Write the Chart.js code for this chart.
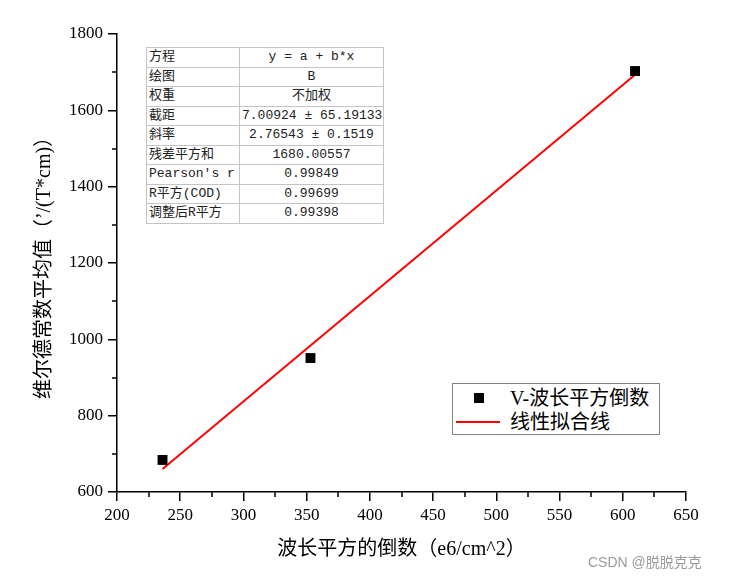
<!DOCTYPE html>
<html>
<head>
<meta charset="utf-8">
<script src="https://cdn.jsdelivr.net/npm/chart.js@4.4.1/dist/chart.umd.min.js"></script>
<style>
  body { margin: 0; background: #fff; }
  #wrap { position: relative; width: 736px; height: 578px; }
  #fitTable {
    position: absolute; left: 146px; top: 47px; width: 238px; table-layout: fixed;
    border-collapse: collapse; border: 1px solid #7a7a7a;
    font: 13px "Liberation Mono", "Noto Sans CJK SC", monospace; color: #222;
    background: #fff;
  }
  #fitTable td { border: 1px solid #c4c4c4; height: 18.5px; padding: 0 2px; line-height: 18px; white-space: nowrap; overflow: hidden; }
  #fitTable td:first-child { width: 88px; text-align: left; }
  #fitTable td:last-child { text-align: center; }
  #legendBox {
    position: absolute; left: 452px; top: 383px; width: 206px; height: 50px;
    border: 1px solid #808080; background: #fff;
    font: 20px "Liberation Serif", "Noto Sans CJK SC", serif; color: #000;
  }
  .lg-row { position: absolute; left: 0; height: 24px; line-height: 24px; width: 100%; }
  .lg-row span { position: absolute; left: 57px; }
  .lg-square { position: absolute; left: 21px; top: 7px; width: 10px; height: 10px; background: #000; }
  .lg-line { position: absolute; left: 3px; top: 11px; width: 44px; height: 2px; background: #ff0000; }
  #mark {
    position: absolute; left: 588px; top: 551px;
    font: 14px "Liberation Sans", "Noto Sans CJK SC", sans-serif; color: #9a9a9a;
  }
</style>
</head>
<body>
<div id="wrap">
  <canvas id="fitChart" width="736" height="578"></canvas>
  <table id="fitTable"></table>
  <div id="legendBox">
    <div class="lg-row" style="top:2px"><div class="lg-square"></div><span>V-波长平方倒数</span></div>
    <div class="lg-row" style="top:26px"><div class="lg-line"></div><span>线性拟合线</span></div>
  </div>
  <div id="mark">CSDN @脱脱克克</div>
</div>
<script>
// 数据点
const xData = [236.0, 353.0, 609.7];
const yData = [684, 951, 1703];

// 拟合线端点
const fitX = [236.0, 609.7];
const fitY = [660, 1693];

// 拟合结果表
const tableLabels = ["方程", "绘图", "权重", "截距", "斜率", "残差平方和", "Pearson's r", "R平方(COD)", "调整后R平方"];
const tableValues = ["y = a + b*x", "B", "不加权", "7.00924 ± 65.19133", "2.76543 ± 0.1519", "1680.00557", "0.99849", "0.99699", "0.99398"];

const xTitle = "波长平方的倒数（e6/cm^2）";
const yTitle = "维尔德常数平均值（’/(T*cm)）";

// 填表
const table = document.getElementById("fitTable");
tableLabels.forEach((label, i) => {
  const row = table.insertRow();
  row.insertCell().textContent = label;
  row.insertCell().textContent = tableValues[i];
});

const tickFont = { family: "'Liberation Serif', 'Noto Sans CJK SC', serif", size: 17 };
const titleFont = { family: "'Liberation Serif', 'Noto Sans CJK SC', serif", size: 20 };

// 次刻度
const minorTicks = {
  id: "minorTicks",
  afterDraw(chart) {
    const c = chart.ctx;
    const xs = chart.scales.x, ys = chart.scales.y;
    c.save();
    c.strokeStyle = "#000";
    c.lineWidth = 1.5;
    for (let v = 225; v < 650; v += 50) {
      const px = Math.round(xs.getPixelForValue(v));
      c.beginPath(); c.moveTo(px, xs.top); c.lineTo(px, xs.top + 5); c.stroke();
    }
    for (let v = 700; v < 1800; v += 200) {
      const py = Math.round(ys.getPixelForValue(v));
      c.beginPath(); c.moveTo(ys.right, py); c.lineTo(ys.right - 5, py); c.stroke();
    }
    c.restore();
  },
};

var ctx = document.getElementById("fitChart").getContext("2d");
var fitChart = new Chart(ctx, {
  type: "scatter",
  data: {
    datasets: [
      {
        label: "V-波长平方倒数",
        data: xData.map((x, i) => ({ x: x, y: yData[i] })),
        backgroundColor: "#000",
        borderColor: "#000",
        pointStyle: "rect",
        pointRadius: 7,
        borderWidth: 0,
        order: 0,
      },
      {
        label: "线性拟合线",
        data: fitX.map((x, i) => ({ x: x, y: fitY[i] })),
        showLine: true,
        borderColor: "#ff0000",
        borderWidth: 2,
        pointRadius: 0,
        order: 1,
      },
    ],
  },
  options: {
    responsive: false,
    animation: false,
    layout: { padding: { left: 0, top: 34, right: 50, bottom: 0 } },
    plugins: { legend: { display: false }, tooltip: { enabled: false } },
    scales: {
      x: {
        type: "linear",
        min: 200,
        max: 650,
        afterFit: (s) => { s.height = 86; },
        ticks: { stepSize: 50, color: "#000", font: tickFont, padding: 4, maxRotation: 0, callback: (v) => String(v) },
        grid: { drawOnChartArea: false, drawTicks: true, tickLength: 9, color: "#000", lineWidth: 1.5 },
        border: { display: true, color: "#000", width: 1.5 },
        title: { display: true, text: xTitle, color: "#000", font: titleFont, padding: { top: 0, bottom: 16 } },
      },
      y: {
        type: "linear",
        min: 600,
        max: 1800,
        afterFit: (s) => { s.width = 117; },
        ticks: { stepSize: 200, color: "#000", font: tickFont, padding: 5, callback: (v) => String(v) },
        grid: { drawOnChartArea: false, drawTicks: true, tickLength: 9, color: "#000", lineWidth: 1.5 },
        border: { display: true, color: "#000", width: 1.5 },
        title: { display: true, text: yTitle, color: "#000", font: titleFont, padding: { top: 33, bottom: 0 } },
      },
    },
  },
  plugins: [minorTicks],
});
</script>
</body>
</html>
